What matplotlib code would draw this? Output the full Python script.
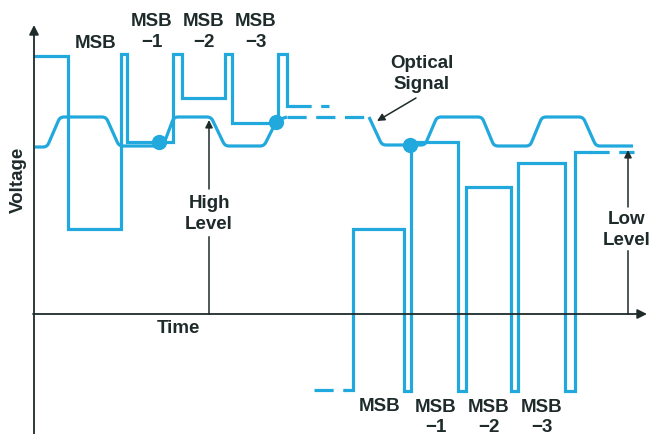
import matplotlib
matplotlib.use("Agg")
import matplotlib.pyplot as plt
import numpy as np

plt.rcParams['font.family'] = ['Liberation Sans', 'DejaVu Sans']

BLUE = "#21a8dd"
INK = "#1f2b2b"

# optical signal (smooth trapezoid wave), pixel units, y grows downward
opt1_x = [35, 47, 60, 106, 119, 163, 174, 211, 225, 264, 277, 287]
opt1_y = [148, 148, 118, 118, 147, 147, 118, 118, 147, 147, 121, 118]
opt_dash_x = [287, 369]
opt_dash_y = [118, 118]
opt2_x = [369, 382, 425, 437, 482, 494, 530, 542, 583, 596, 633]
opt2_y = [118, 146, 146, 118, 118, 147, 147, 118, 118, 147, 147]

# digital waveform, high level threshold side
dig1_x = [35, 68, 68, 121, 121, 127, 127, 173, 173, 182, 182, 225, 225, 232,
          232, 278, 278, 287, 287, 292]
dig1_y = [57, 57, 230, 230, 55, 55, 143, 143, 55, 55, 99, 99, 55, 55,
          124, 124, 55, 55, 107, 107]
dig1_dash_x = [292, 329]
dig1_dash_y = [107, 107]

# digital waveform, low level threshold side
dig2_dash_x = [314, 346]
dig2_dash_y = [391, 391]
dig2_x = [346, 353, 353, 404, 404, 411, 411, 458, 458, 466, 466, 511, 511, 518,
          518, 565, 565, 575, 575, 590]
dig2_y = [391, 391, 230, 230, 392, 392, 143, 143, 392, 392, 188, 188, 392, 392,
          164, 164, 392, 392, 153, 153]
dig2_dash_x2 = [590, 634]
dig2_dash_y2 = [153, 153]

dots_x = [159, 276, 410]
dots_y = [143, 123, 146]

top_labels = ["MSB", "MSB\n\u22121", "MSB\n\u22122", "MSB\n\u22123"]
top_x = [96, 152, 204, 256]
bot_labels = ["MSB", "MSB\n\u22121", "MSB\n\u22122", "MSB\n\u22123"]
bot_x = [380, 436, 489, 542]


def round_corners(xs, ys, r=4.0, n=6):
    # replace each inner corner by a short quadratic curve
    p = np.column_stack([xs, ys]).astype(float)
    out = [p[0]]
    for i in range(1, len(p) - 1):
        a, b, c = p[i - 1], p[i], p[i + 1]
        da = (a - b) / np.linalg.norm(a - b)
        dc = (c - b) / np.linalg.norm(c - b)
        ra = min(r, np.linalg.norm(a - b) / 2)
        rc = min(r, np.linalg.norm(c - b) / 2)
        p0, p2 = b + da * ra, b + dc * rc
        for t in np.linspace(0, 1, n):
            out.append((1 - t) ** 2 * p0 + 2 * (1 - t) * t * b + t ** 2 * p2)
    out.append(p[-1])
    out = np.array(out)
    return out[:, 0], out[:, 1]


fig = plt.figure(figsize=(6.52, 4.35), dpi=100)
ax = fig.add_axes([0, 0, 1, 1])
ax.set_xlim(0, 652)
ax.set_ylim(435, 0)
ax.axis('off')

lw = 2.3
sx, sy = round_corners(opt1_x, opt1_y)
ax.plot(sx, sy, color=BLUE, lw=lw, solid_capstyle='butt')
ax.plot(opt_dash_x, opt_dash_y, color=BLUE, lw=lw, dashes=(6, 3))
sx, sy = round_corners(opt2_x, opt2_y)
ax.plot(sx, sy, color=BLUE, lw=lw, solid_capstyle='butt')

ax.plot(dig1_x, dig1_y, color=BLUE, lw=lw, solid_joinstyle='miter')
ax.plot(dig1_dash_x, dig1_dash_y, color=BLUE, lw=lw, dashes=(6, 3))
ax.plot(dig2_dash_x, dig2_dash_y, color=BLUE, lw=lw, dashes=(6, 3))
ax.plot(dig2_x, dig2_y, color=BLUE, lw=lw, solid_joinstyle='miter')
ax.plot(dig2_dash_x2, dig2_dash_y2, color=BLUE, lw=lw, dashes=(6, 3))

ax.plot(dots_x, dots_y, 'o', color=BLUE, ms=11, mec='none')

# axes
arrow = dict(arrowstyle='-|>', color=INK, lw=1.3, mutation_scale=14, shrinkA=0, shrinkB=0)
ax.annotate('', xy=(34, 26), xytext=(34, 435), arrowprops=arrow)
ax.annotate('', xy=(647, 315), xytext=(33, 315), arrowprops=arrow)

# high / low level markers
small = dict(arrowstyle='-|>', color=INK, lw=1.1, mutation_scale=11, shrinkA=0, shrinkB=0)
ax.annotate('', xy=(209, 121), xytext=(209, 190), arrowprops=small)
ax.plot([209, 209], [238, 315], color=INK, lw=1.1)
ax.annotate('', xy=(628, 151), xytext=(628, 208), arrowprops=small)
ax.plot([628, 628], [252, 315], color=INK, lw=1.1)
ax.annotate('', xy=(377, 122), xytext=(416, 99), arrowprops=small)

fs = 13.5
tk = dict(color=INK, fontsize=fs, fontweight='bold', ha='center', va='center', linespacing=1.3)
for lab, x in zip(top_labels, top_x):
    ax.text(x, 43 if '\n' not in lab else 32, lab, **tk)
for lab, x in zip(bot_labels, bot_x):
    ax.text(x, 407 if '\n' not in lab else 417.5, lab, **tk)
ax.text(422, 74, "Optical\nSignal", **tk)
ax.text(209, 214, "High\nLevel", **tk)
ax.text(627, 230, "Low\nLevel", **tk)
ax.text(178, 329, "Time", **tk)
ax.text(18, 180, "Voltage", rotation=90, **tk)

fig.savefig("out.png", dpi=100)
